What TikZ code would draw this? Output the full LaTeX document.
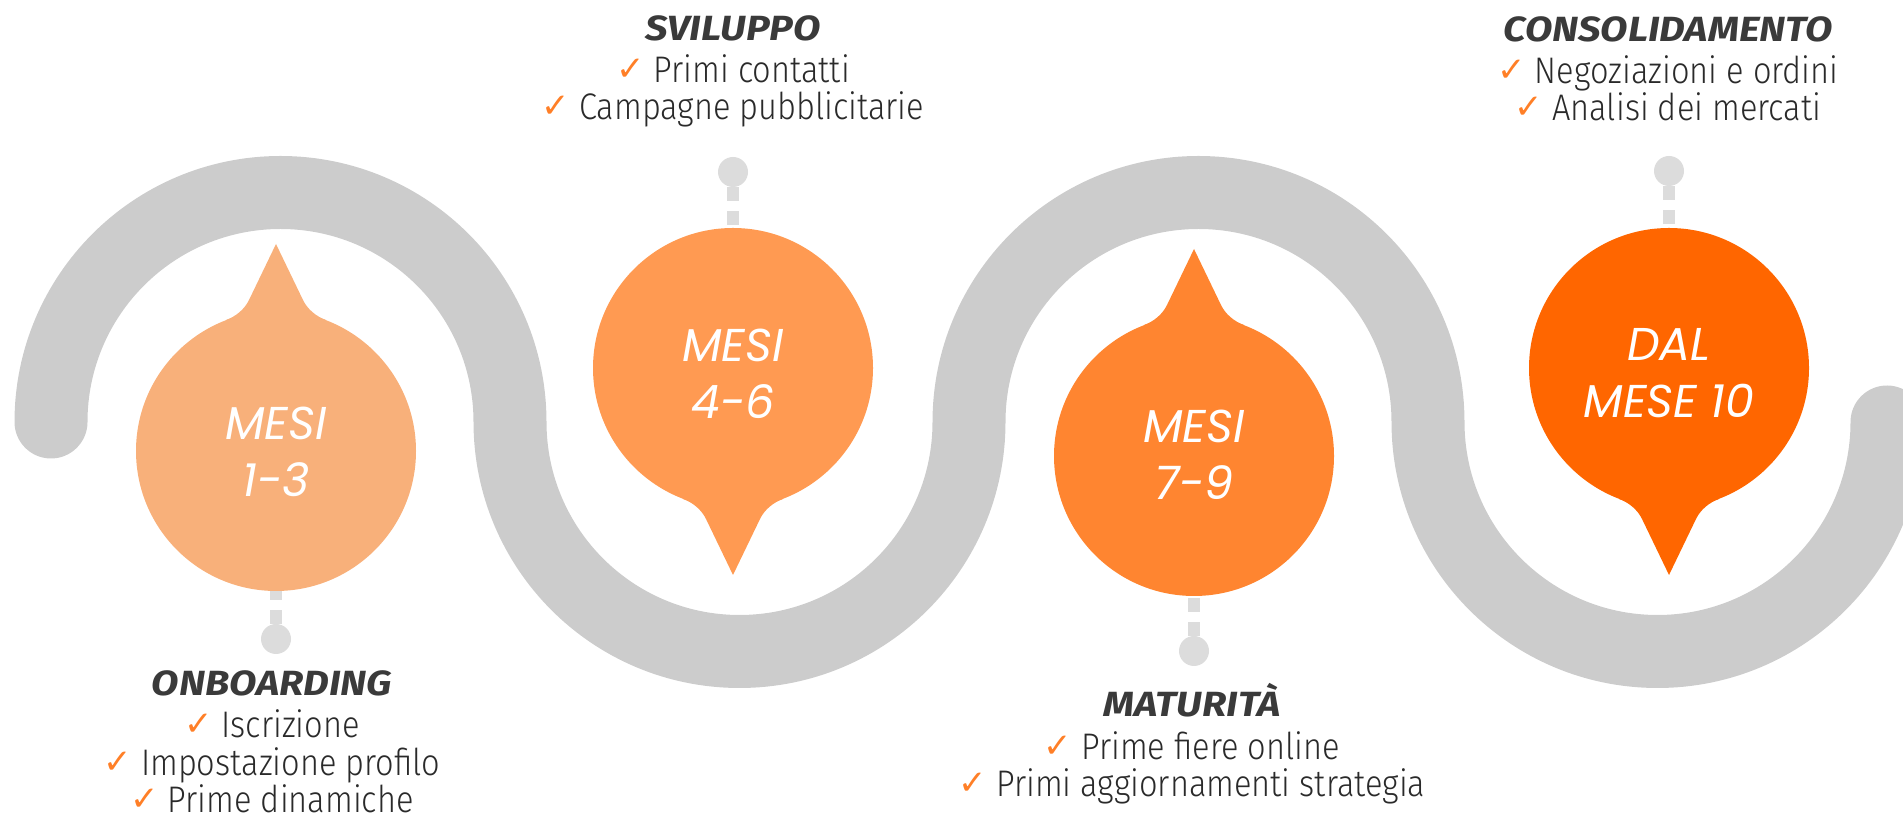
\documentclass[tikz,border=0pt]{standalone}
\usepackage{fontspec}
\setmainfont{Fira Sans}[UprightFont={* Light}, FakeStretch=0.88]
\newfontfamily\headfont{Fira Sans}[FakeStretch=1.14]
\newfontfamily\bubfont{Poppins}
\newfontfamily\symfont{DejaVu Sans}
\definecolor{band}{HTML}{CCCCCC}
\definecolor{stemc}{HTML}{DCDCDC}
\definecolor{cA}{HTML}{F8B07A}
\definecolor{cB}{HTML}{FF9A52}
\definecolor{cC}{HTML}{FF8530}
\definecolor{cD}{HTML}{FF6600}
\definecolor{chk}{HTML}{FF7F27}
\definecolor{txt}{HTML}{2A2A2A}
\definecolor{head}{HTML}{3A3A3A}
\newcommand{\ck}{\raisebox{2pt}{\symfont\color{chk}\fontsize{34}{34}\selectfont ✓}\hspace{9pt}}
\newcommand{\pointer}[3]{%
  \fill[#3, shift={#1}, rotate=#2] (50,131) .. controls (40,134.5) and (31.3,142) .. (27,151) -- (0,207) -- (-27,151) .. controls (-31.3,142) and (-40,134.5) .. (-50,131) -- (0,0) -- cycle;}
\tikzset{
  bubble/.style={circle, minimum size=280pt, inner sep=0pt},
  bubtxt/.style={inner sep=0pt, text=white, align=center, font=\bubfont\fontsize{46}{57}\selectfont\itshape},
  dotc/.style={circle, fill=stemc, minimum size=30pt, inner sep=0pt},
  stemline/.style={draw=stemc, line width=12pt, dash pattern=on 14pt off 10pt},
  headtxt/.style={anchor=base, text=head, font=\headfont\fontsize{35}{35}\selectfont\bfseries\itshape, inner sep=0pt},
  itemtxt/.style={anchor=base, text=txt, font=\fontsize{37}{38}\selectfont, inner sep=0pt},
  bandline/.style={draw=band, line width=73pt, line cap=round}
}
\begin{document}
\begin{tikzpicture}[x=1pt, y=1pt]
\useasboundingbox (0,0) rectangle (1903,818);
% wavy band
\draw[bandline] (51,396) arc[start angle=180,end angle=0,radius=229.5]
  arc[start angle=180,end angle=360,radius=229.5]
  arc[start angle=180,end angle=0,radius=229.5]
  arc[start angle=180,end angle=360,radius=229.5];
% pointers
\pointer{(276,367)}{0}{cA}
\pointer{(733,450)}{180}{cB}
\pointer{(1194,362)}{0}{cC}
\pointer{(1669,450)}{180}{cD}
% bubbles
\node[bubble, fill=cA] (b1) at (276,367) {};
\node[bubble, fill=cB] (b2) at (733,450) {};
\node[bubble, fill=cC] (b3) at (1194,362) {};
\node[bubble, fill=cD] (b4) at (1669,450) {};
\node[bubtxt] (t1) at (276,366) {MESI\\1-3};
\node[bubtxt] (t2) at (733,444) {MESI\\4-6};
\node[bubtxt] (t3) at (1194,363) {MESI\\7-9};
\node[bubtxt] (t4) at (1669,445) {DAL\\MESE 10};
% dots and stems
\node[dotc] (d1) at (276,179) {};
\node[dotc] (d2) at (733,646) {};
\node[dotc] (d3) at (1194,167) {};
\node[dotc] (d4) at (1669,647) {};
\draw[stemline] (d1) -- (b1);
\draw[stemline] (d2) -- (b2);
\draw[stemline] (d3) -- (b3);
\draw[stemline] (d4) -- (b4);
% texts
\node[headtxt] (h1) at (272,122) {ONBOARDING};
\node[itemtxt] (i1a) at (272,80) {\ck Iscrizione};
\node[itemtxt] (i1b) at (272,42) {\ck Impostazione profilo};
\node[itemtxt] (i1c) at (272,5) {\ck Prime dinamiche};
\node[headtxt] (h2) at (733,777) {SVILUPPO};
\node[itemtxt] (i2a) at (733,735.5) {\ck Primi contatti};
\node[itemtxt] (i2b) at (733,698.5) {\ck Campagne pubblicitarie};
\node[headtxt] (h3) at (1192,101) {MATURITÀ};
\node[itemtxt] (i3a) at (1192,58.5) {\ck Prime fiere online};
\node[itemtxt] (i3b) at (1192,21.5) {\ck Primi aggiornamenti strategia};
\node[headtxt] (h4) at (1668,776) {CONSOLIDAMENTO};
\node[itemtxt] (i4a) at (1668,734.5) {\ck Negoziazioni e ordini};
\node[itemtxt] (i4b) at (1668,697.5) {\ck Analisi dei mercati};
\end{tikzpicture}
\end{document}
